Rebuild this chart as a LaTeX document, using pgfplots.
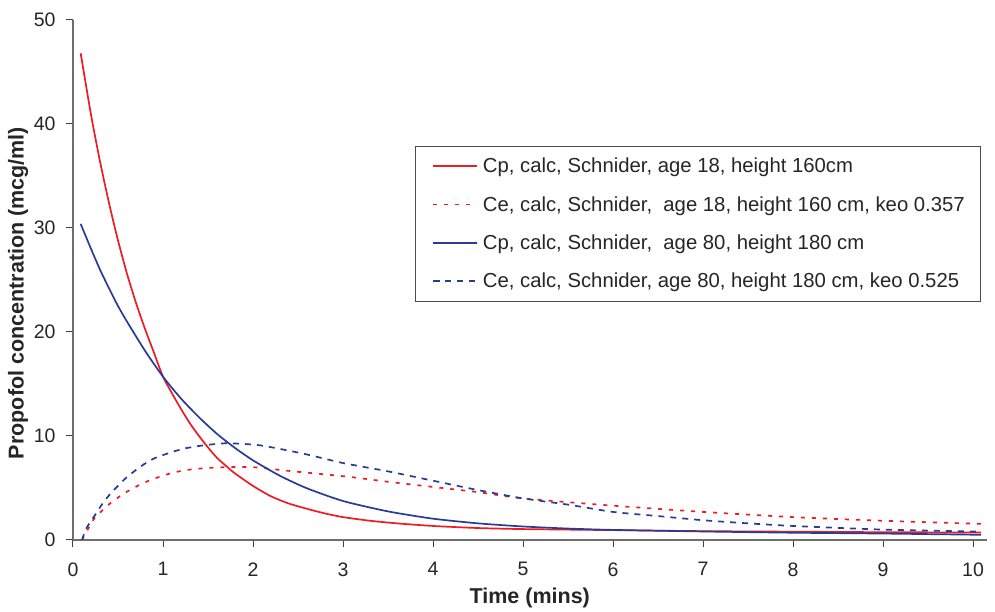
\documentclass[border=0pt]{standalone}
\usepackage{pgfplots}
\pgfplotsset{compat=1.18}
\usepackage{fontspec}
\setmainfont{Liberation Sans}
\definecolor{cred}{RGB}{237,28,36}
\definecolor{cblue}{RGB}{40,60,150}
\definecolor{axgray}{RGB}{110,110,110}

\begin{document}
\begin{tikzpicture}
\begin{axis}[name=ax,
  scale only axis, width=913.5pt, height=520pt,
  xmin=0, xmax=10.15, ymin=0, ymax=50,
  axis x line*=bottom, axis y line*=left,
  axis line style={axgray, line width=1.3pt, -},
  xtick={0,1,...,10}, ytick={0,10,...,50},
  tick style={black!75, line width=1pt},
  tick align=outside, major tick length=7pt,
  ticklabel style={font=\fontsize{19.5}{22}\selectfont, text=black!85},
  xticklabel style={yshift=-12pt},
  yticklabel style={xshift=-7pt},
  /pgf/number format/assume math mode=true,
  xlabel={Time (mins)}, ylabel={Propofol concentration (mcg/ml)},
  label style={font=\fontsize{21.5}{24}\selectfont\bfseries, text=black!85},
  xlabel style={at={(axis description cs:0.5,0)}, anchor=center, yshift=-58pt},
  ylabel style={at={(axis description cs:0,0.475)}, anchor=center, yshift=55pt},
  legend style={at={(1,1)}, anchor=north east, xshift=-6.5pt, yshift=-126pt,
    draw=black!70, inner xsep=13pt, inner ysep=10pt,
    font=\fontsize{20.3}{24}\selectfont, row sep=18pt, text=black!85},
  legend cell align=left,
  legend image code/.code={\draw[mark repeat=2,mark phase=2,#1] plot coordinates {(4pt,0pt) (26pt,0pt) (48pt,0pt)};
    \path (0pt,0pt) (51pt,0pt);},
]
\addplot[cred, line width=1.7pt, smooth, tension=0.4] coordinates {
(0.085,46.8) (0.2,40.9) (0.3,36.4) (0.4,32.4) (0.5,28.8) (0.6,25.6) (0.7,22.8)
(0.8,20.3) (0.9,18.0) (1.0,15.7) (1.1,14.1) (1.2,12.6) (1.3,11.2) (1.4,10.0)
(1.5,8.9) (1.6,7.9) (1.71,7.05) (1.8,6.4) (2.0,5.2) (2.2,4.2) (2.4,3.5)
(2.6,3.0) (2.8,2.55) (3.0,2.2) (3.3,1.85) (3.6,1.6) (4.0,1.35) (4.5,1.15)
(5.0,1.05) (6.0,0.95) (7.0,0.85) (8.0,0.8) (9.0,0.75) (10.09,0.72)};
\addlegendentry{Cp, calc, Schnider, age 18, height 160cm}
\addplot[cred, line width=1.7pt, dash pattern=on 4pt off 7pt, smooth, tension=0.4] coordinates {
(0.1,0) (0.17,1.1) (0.23,2.0) (0.32,2.8) (0.41,3.5) (0.52,4.2) (0.63,4.8)
(0.74,5.3) (0.87,5.8) (1.08,6.4) (1.24,6.7) (1.45,6.9) (1.71,7.0) (2.0,7.0)
(2.45,6.6) (3.04,6.1) (3.5,5.6) (4.0,5.1) (4.5,4.6) (5.0,4.0) (6.0,3.3)
(7.0,2.7) (8.0,2.2) (9.0,1.85) (10.09,1.55)};
\addlegendentry{Ce, calc, Schnider,\ \ age 18, height 160 cm, keo 0.357}
\addplot[cblue, line width=1.7pt, smooth, tension=0.4] coordinates {
(0.085,30.4) (0.2,28.0) (0.3,26.0) (0.4,24.2) (0.5,22.5) (0.6,21.0) (0.8,18.2)
(1.0,15.7) (1.2,13.6) (1.4,11.8) (1.6,10.2) (1.8,8.85) (2.0,7.66) (2.3,6.17)
(2.6,4.97) (3.0,3.75) (3.5,2.75) (4.0,2.05) (4.5,1.6) (5.0,1.3) (5.5,1.1)
(6.0,0.97) (7.0,0.82) (8.0,0.7) (9.0,0.62) (10.09,0.5)};
\addlegendentry{Cp, calc, Schnider,\ \ age 80, height 180 cm}
\addplot[cblue, line width=1.7pt, dash pattern=on 6pt off 6pt, smooth, tension=0.4] coordinates {
(0.1,0) (0.15,1.15) (0.23,2.2) (0.32,3.4) (0.41,4.4) (0.5,5.2) (0.58,5.9)
(0.74,7.0) (0.89,7.8) (1.08,8.4) (1.24,8.8) (1.45,9.1) (1.71,9.3) (2.08,9.1)
(2.56,8.3) (3.0,7.4) (3.5,6.6) (4.0,5.7) (4.5,4.8) (5.0,4.0) (5.5,3.4)
(6.0,2.7) (6.5,2.3) (7.0,1.9) (7.5,1.6) (8.0,1.35) (9.0,1.0) (10.09,0.8)};
\addlegendentry{Ce, calc, Schnider, age 80, height 180 cm, keo 0.525}
\end{axis}
\pgfresetboundingbox
\path (ax.south west) ++(-73pt,-72pt) rectangle ++(995pt,612pt);
\end{tikzpicture}
\end{document}
